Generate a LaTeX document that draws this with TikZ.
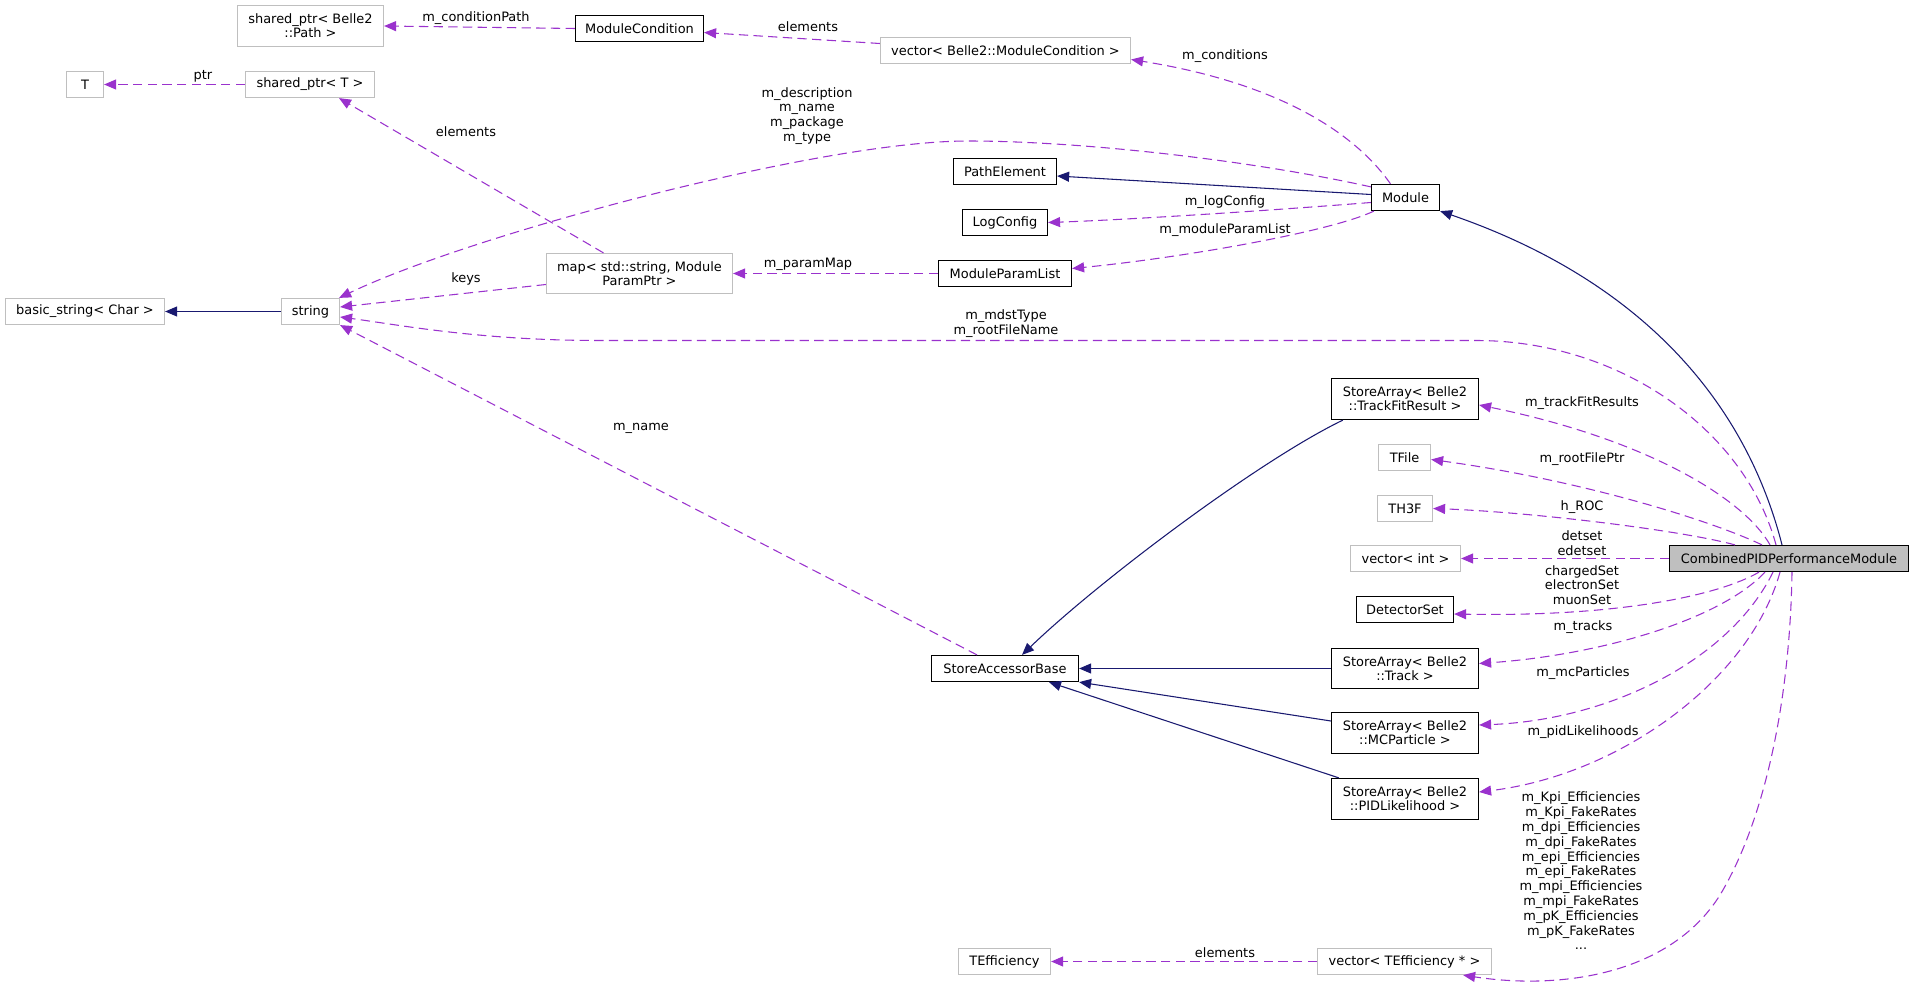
\documentclass[tikz,border=0pt]{standalone}
\usepackage{fontspec}
\setmainfont{DejaVu Sans}
\usetikzlibrary{arrows.meta,calc}
\definecolor{depcol}{HTML}{9A32CD}
\definecolor{inhcol}{HTML}{191970}
\definecolor{grey75}{HTML}{BFBFBF}
\newcommand\dxf{\fontsize{9.7}{10.3}\selectfont}
\newcommand\dxl{\fontsize{9.7}{11.1}\selectfont}
\begin{document}
\begin{tikzpicture}[x=0.75pt,y=-0.75pt,
  wh/.style 2 args={minimum width=#1*0.75pt, minimum height=#2*0.75pt},
  cls/.style={draw=black, line width=0.9pt, fill=white, inner sep=0pt, align=center, font=\dxf},
  ext/.style={cls, draw=grey75},
  lbl/.style={inner sep=0pt, align=center, font=\dxl},
  dep/.style={draw=depcol, line width=0.8pt, dash pattern=on 7pt off 4pt, -{Triangle[length=9pt,width=7.5pt]}},
  inh/.style={draw=inhcol, line width=0.8pt, -{Triangle[length=9pt,width=7.5pt]}}
]
\useasboundingbox (0,0) rectangle (1915,988);

% nodes
\node[ext, wh={146}{41}] (spath) at (310.5,26) {shared\_ptr< Belle2\\::Path >};
\node[cls, wh={128}{26}] (modcond) at (639.5,28.5) {ModuleCondition};
\node[ext, wh={37}{26}] (T) at (85,84.5) {T};
\node[ext, wh={129}{26}] (sptrT) at (310,84.5) {shared\_ptr< T >};
\node[ext, wh={250}{26}] (vecmc) at (1005.5,50.5) {vector< Belle2::ModuleCondition >};
\node[cls, wh={103}{26}] (pathel) at (1005,171.5) {PathElement};
\node[cls, wh={68}{26}] (module) at (1405.5,197.5) {Module};
\node[cls, wh={85}{26}] (logcfg) at (1005,222.5) {LogConfig};
\node[cls, wh={133}{26}] (mplist) at (1005,273.5) {ModuleParamList};
\node[ext, wh={186}{40}] (map) at (639.5,273.5) {map< std::string, Module\\ParamPtr >};
\node[ext, wh={159}{26}] (basic) at (85,311.5) {basic\_string< Char >};
\node[ext, wh={58}{26}] (string) at (310.5,311.5) {string};
\node[cls, wh={147}{41}] (tfr) at (1405,399) {StoreArray< Belle2\\::TrackFitResult >};
\node[ext, wh={52}{26}] (tfile) at (1404.5,457.5) {TFile};
\node[ext, wh={55}{26}] (th3f) at (1405,508.5) {TH3F};
\node[ext, wh={110}{26}] (vint) at (1405.5,558.5) {vector< int >};
\node[cls, wh={239}{26}, fill=grey75] (cpid) at (1789,558.5) {CombinedPIDPerformanceModule};
\node[cls, wh={97}{26}] (detset) at (1405,609.5) {DetectorSet};
\node[cls, wh={147}{26}] (sab) at (1005,668.5) {StoreAccessorBase};
\node[cls, wh={147}{40}] (satrack) at (1405,668.5) {StoreArray< Belle2\\::Track >};
\node[cls, wh={147}{41}] (samcp) at (1405,733) {StoreArray< Belle2\\::MCParticle >};
\node[cls, wh={147}{41}] (sapid) at (1405,799) {StoreArray< Belle2\\::PIDLikelihood >};
\node[ext, wh={92}{26}] (teff) at (1004.5,961.5) {TEfficiency};
\node[ext, wh={174}{26}] (vteff) at (1404.5,961.5) {vector< TEfficiency * >};

% edges
\draw[dep] (modcond.west) -- (spath.east);
\node[lbl] (l1) at (476,18) {m\_conditionPath};

\draw[dep] ($(vecmc.west)+(0,-7)$) -- ($(modcond.east)+(0,4)$);
\node[lbl] (l2) at (808,27) {elements};

\draw[dep] ($(module.north)+(-15,0)$) .. controls (1360,140) and (1290,85) .. ($(vecmc.east)+(0,9)$);
\node[lbl] (l3) at (1225,56) {m\_conditions};

\draw[dep] ($(module.north west)+(0,3)$) .. controls (1250,160) and (1080,141) .. (968,141)
   .. controls (820,141) and (470,235) .. ($(string.north east)+(-1,0)$);
\node[lbl] (l4) at (807,116) {m\_description\\m\_name\\m\_package\\m\_type};

\draw[inh] ($(module.west)+(0,-3)$) -- ($(pathel.east)+(0,4.5)$);

\draw[dep] ($(module.west)+(0,5)$) .. controls (1250,212) and (1120,220) .. (logcfg.east);
\node[lbl] (l6) at (1225,202) {m\_logConfig};

\draw[dep] ($(module.south west)+(3,0)$) .. controls (1330,232) and (1180,258) .. ($(mplist.east)+(0,-5)$);
\node[lbl] (l7) at (1225,230) {m\_moduleParamList};

\draw[dep] (mplist.west) -- (map.east);
\node[lbl] (l8) at (808,264) {m\_paramMap};

\draw[dep] ($(map.west)+(0,11)$) -- ($(string.east)+(0,-4.5)$);
\node[lbl] (l9) at (466,279) {keys};

\draw[dep] ($(map.north)+(-36,0)$) -- ($(sptrT.south)+(29,0)$);
\node[lbl] (l10) at (466,132) {elements};

\draw[dep] (sptrT.west) -- (T.east);
\node[lbl] (l11) at (203,76) {ptr};

\draw[inh] (string.west) -- (basic.east);

\draw[inh] ($(cpid.north)+(-7,0)$) .. controls (1745,400) and (1640,280) .. (module.south east);

\draw[dep] ($(cpid.north)+(-13,0)$) .. controls (1745,430) and (1620,340.5) .. (1476,340.5) -- (600,340.5)
   .. controls (480,340.5) and (400,325) .. ($(string.east)+(0,5.5)$);
\node[lbl] (l14) at (1006,323.5) {m\_mdstType\\m\_rootFileName};

\draw[dep] ($(cpid.north)+(-19,0)$) .. controls (1745,500) and (1650,440) .. ($(tfr.east)+(0,6)$);
\node[lbl] (l15) at (1582,403) {m\_trackFitResults};

\draw[dep] ($(cpid.north)+(-27,0)$) .. controls (1710,520) and (1580,480) .. ($(tfile.east)+(0,2)$);
\node[lbl] (l16) at (1582,459) {m\_rootFilePtr};

\draw[dep] ($(cpid.north)+(-54,0)$) .. controls (1680,530) and (1530,512) .. (th3f.east);
\node[lbl] (l17) at (1582,507) {h\_ROC};

\draw[dep] (cpid.west) -- (vint.east);
\node[lbl] (l18) at (1582,543.5) {detset\\edetset};

\draw[dep] ($(cpid.south)+(-30,0)$) .. controls (1720,595) and (1620,617) .. ($(detset.east)+(0,4.5)$);
\node[lbl] (l19) at (1582,585) {chargedSet\\electronSet\\muonSet};

\draw[dep] ($(cpid.south)+(-24,0)$) .. controls (1720,620) and (1600,655) .. ($(satrack.east)+(0,-5)$);
\node[lbl] (l20) at (1583,627) {m\_tracks};

\draw[dep] ($(cpid.south)+(-16,0)$) .. controls (1730,660) and (1610,720) .. ($(samcp.east)+(0,-8)$);
\node[lbl] (l21) at (1583,673) {m\_mcParticles};

\draw[dep] ($(cpid.south)+(-9,0)$) .. controls (1750,680) and (1620,775) .. ($(sapid.east)+(0,-7)$);
\node[lbl] (l22) at (1583,732) {m\_pidLikelihoods};

\draw[dep] ($(cpid.south)+(3,0)$) .. controls (1790,700) and (1765,820) .. (1720,895)
   .. controls (1670,975) and (1560,990) .. ($(vteff.south east)+(-29,0)$);
\node[lbl] (l23) at (1581,871) {m\_Kpi\_Efficiencies\\m\_Kpi\_FakeRates\\m\_dpi\_Efficiencies\\m\_dpi\_FakeRates\\m\_epi\_Efficiencies\\m\_epi\_FakeRates\\m\_mpi\_Efficiencies\\m\_mpi\_FakeRates\\m\_pK\_Efficiencies\\m\_pK\_FakeRates\\...};

\draw[dep] (vteff.west) -- (teff.east);
\node[lbl] (l24) at (1225,953) {elements};

\draw[inh] ($(tfr.south west)+(12,0)$) .. controls (1260,460) and (1100,580) .. ($(sab.north)+(17,0)$);
\draw[inh] (satrack.west) -- (sab.east);
\draw[inh] ($(samcp.west)+(0,-12)$) -- (sab.south east);
\draw[inh] ($(sapid.north west)+(8,0)$) -- ($(sab.south)+(44,0)$);

\draw[dep] ($(sab.north)+(-28,0)$) -- (string.south east);
\node[lbl] (l29) at (641,428) {m\_name};
\end{tikzpicture}
\end{document}
